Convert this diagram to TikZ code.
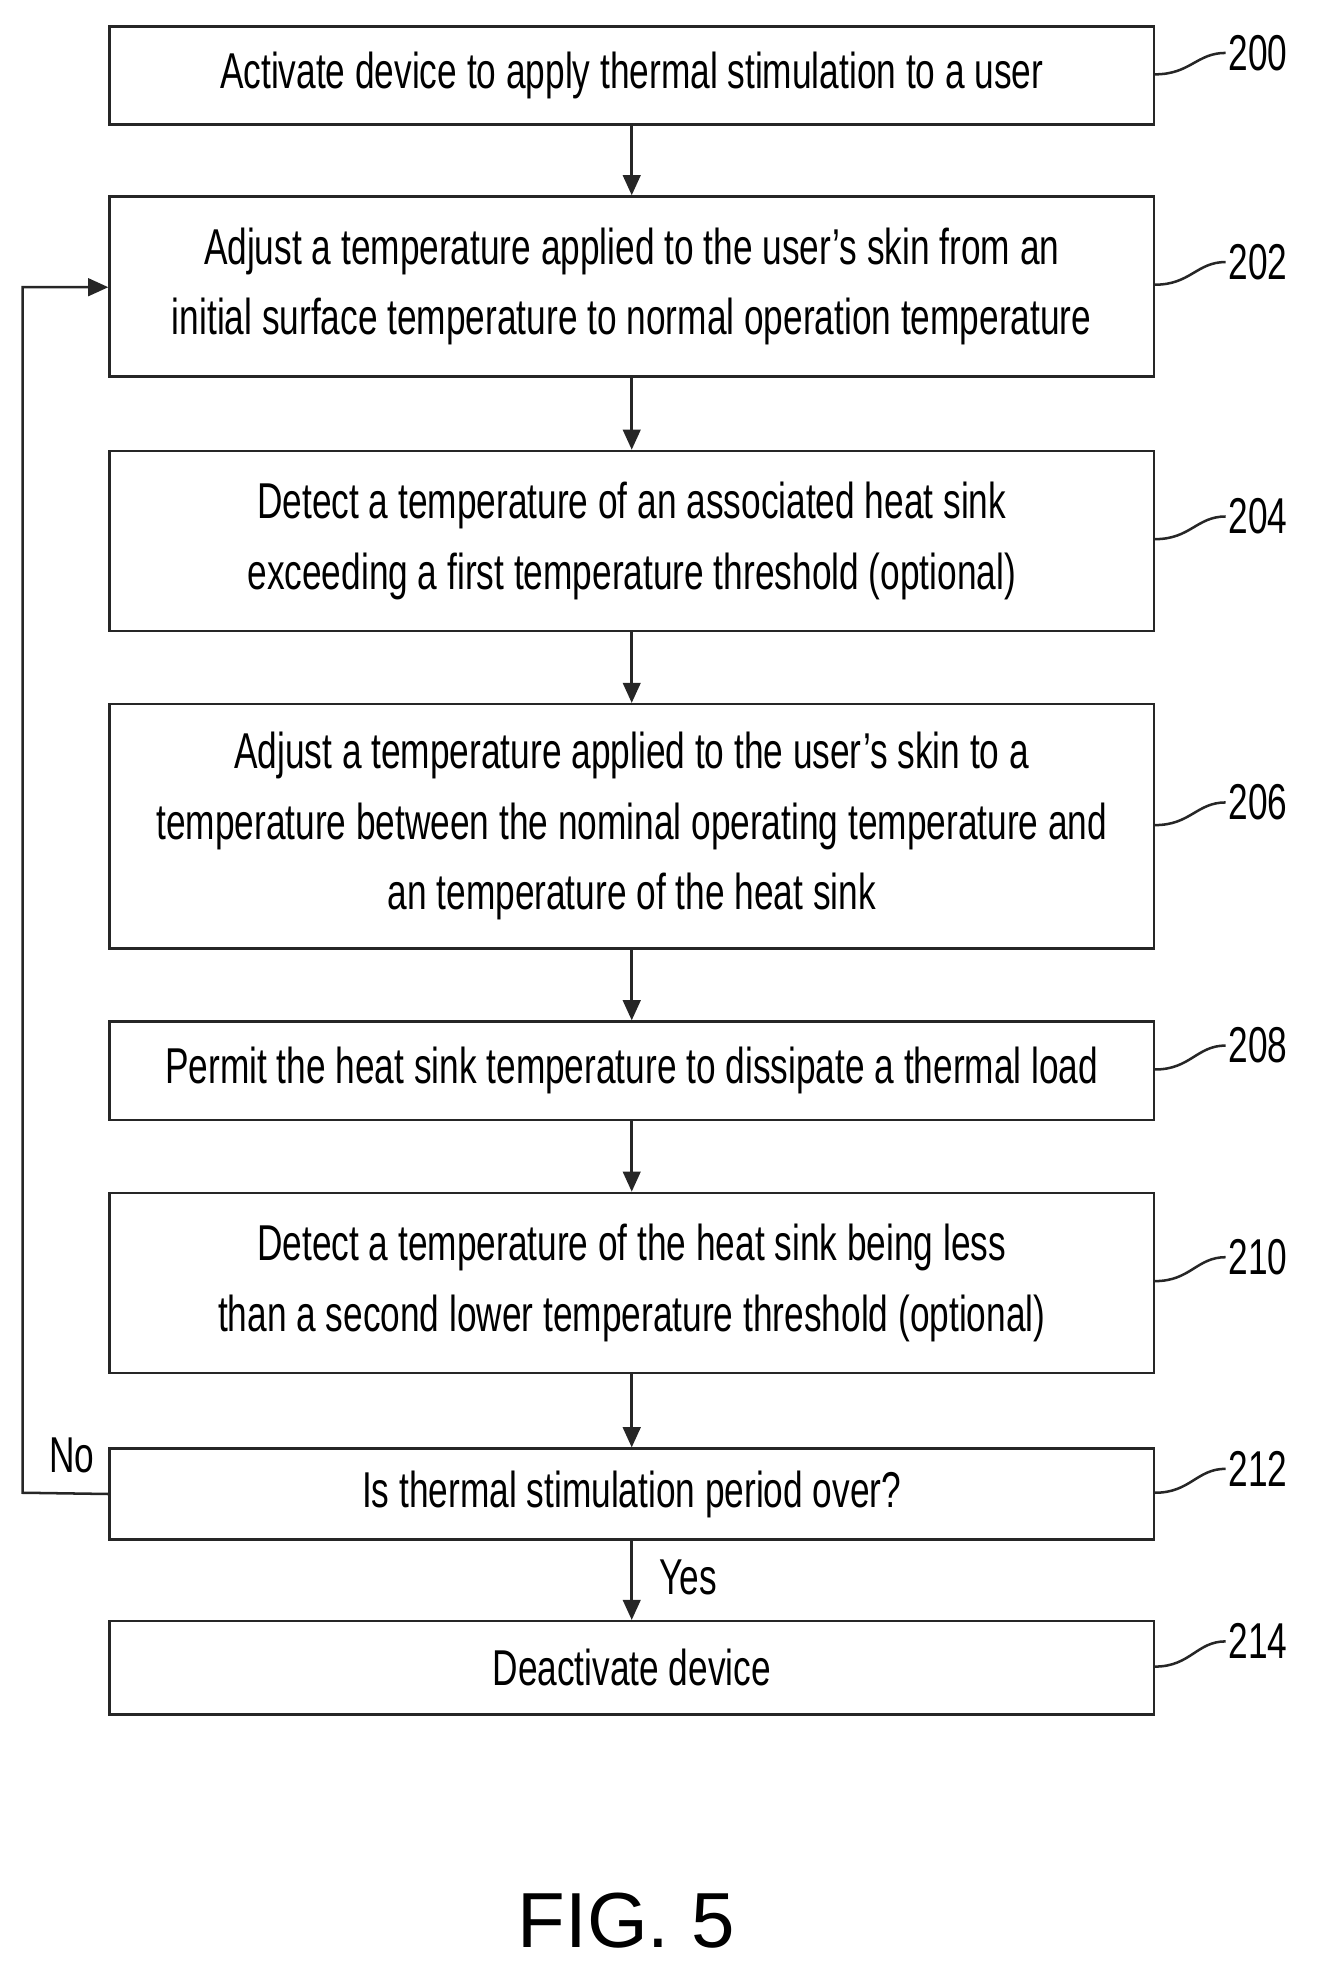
\documentclass[tikz,border=0pt]{standalone}
\usepackage{fontspec}
\newfontfamily\nar[FakeStretch=0.7]{Liberation Sans}
\usetikzlibrary{arrows.meta}
\begin{document}
\begin{tikzpicture}[x=1pt,y=-1pt,
  box/.style={draw=black!85,line width=2pt,minimum width=829pt,anchor=north west,inner sep=0pt,align=center,font=\nar\fontsize{40}{56}\selectfont},
  arr/.style={draw=black!85,line width=2pt,-{Triangle[length=16pt,width=14pt]}},
  lbl/.style={font=\nar\fontsize{40}{40}\selectfont,anchor=west,inner sep=0pt},
  lead/.style={draw=black!85,line width=2pt}]
\useasboundingbox (0,0) rectangle (1050,1575);
\node[box,minimum height=78pt] (b200) at (86,20) {Activate device to apply thermal stimulation to a user};
\node[box,minimum height=143pt] (b202) at (86,155) {Adjust a temperature applied to the user’s skin from an\\initial surface temperature to normal operation temperature};
\node[box,minimum height=143pt] (b204) at (86,357) {Detect a temperature of an associated heat sink\\exceeding a first temperature threshold (optional)};
\node[box,minimum height=194pt] (b206) at (86,558) {Adjust a temperature applied to the user’s skin to a\\temperature between the nominal operating temperature and\\an temperature of the heat sink};
\node[box,minimum height=78pt] (b208) at (86,810) {Permit the heat sink temperature to dissipate a thermal load};
\node[box,minimum height=143pt] (b210) at (86,946) {Detect a temperature of the heat sink being less\\than a second lower temperature threshold (optional)};
\node[box,minimum height=72pt] (b212) at (86,1149) {Is thermal stimulation period over?};
\node[box,minimum height=74pt] (b214) at (86,1286) {Deactivate device};
\foreach \a/\b in {b200/b202,b202/b204,b204/b206,b206/b208,b208/b210,b210/b212,b212/b214}
  \draw[arr] (\a.south) -- (\b.north);
\coordinate (c1) at (18,1185);
\coordinate (c2) at (18,228);
\draw[arr] (b212.west) -- (c1) -- (c2) -- (b202.west |- c2);
\node[font=\nar\fontsize{40}{40}\selectfont] (no) at (57,1155) {No};
\node[font=\nar\fontsize{40}{40}\selectfont,anchor=west] (yes) at (520,1252) {Yes};
\foreach \n/\y/\ly in {b200/59/42,b202/226/208,b204/428/410,b206/655/637,b208/849/830,b210/1017/998,b212/1185/1166,b214/1323/1303}{
  \coordinate (e\n) at (973,\ly);
  \draw[lead] (\n.east |- 0,\y) .. controls (945,\y) and (950,\ly) .. (e\n);
}
\node[lbl] (l200) at (975,42) {200};
\node[lbl] (l202) at (975,208) {202};
\node[lbl] (l204) at (975,410) {204};
\node[lbl] (l206) at (975,637) {206};
\node[lbl] (l208) at (975,830) {208};
\node[lbl] (l210) at (975,998) {210};
\node[lbl] (l212) at (975,1166) {212};
\node[lbl] (l214) at (975,1303) {214};
\node[font=\fontspec{Liberation Sans}\fontsize{62}{64}\selectfont] (fig) at (497,1525) {FIG. 5};
\end{tikzpicture}
\end{document}
